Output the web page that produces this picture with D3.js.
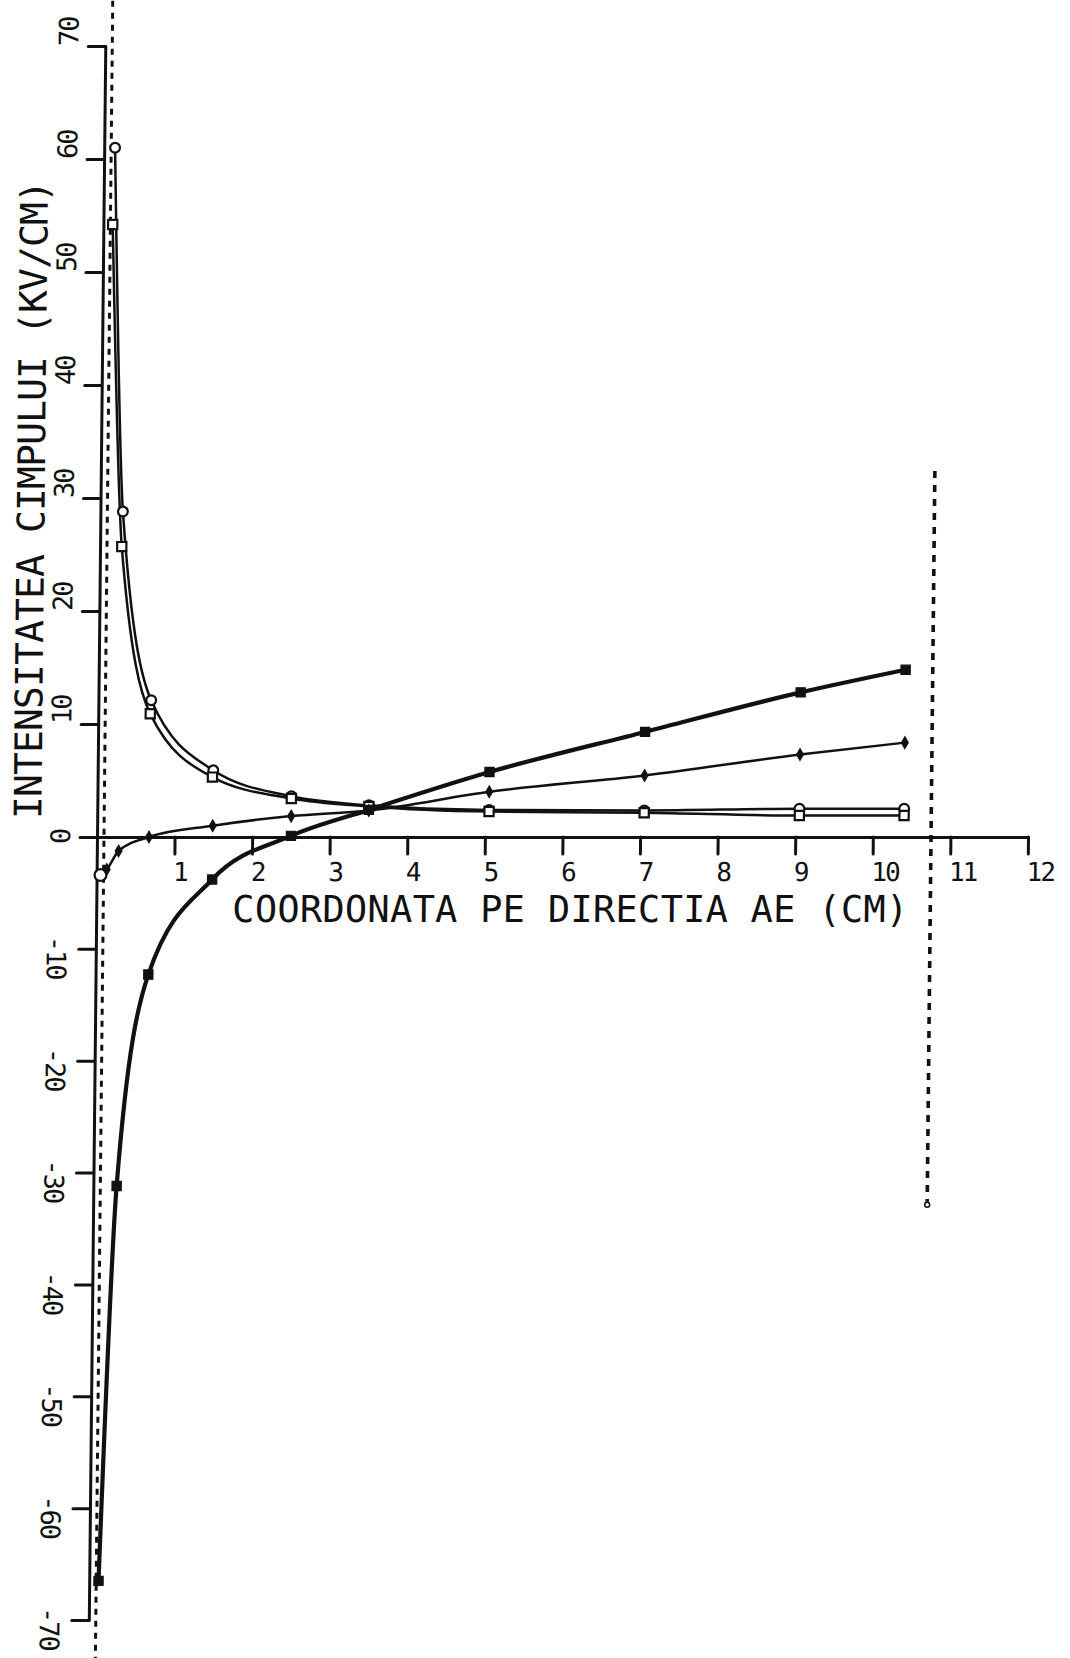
<!DOCTYPE html>
<html>
<head>
<meta charset="utf-8">
<script src="https://cdn.jsdelivr.net/npm/d3@7/dist/d3.min.js"></script>
<style>
body { margin: 0; background: #fff; }
svg { display: block; background: #fff; }
text { font-family: 'DejaVu Sans Mono', monospace; fill: #111; }
</style>
</head>
<body>
<svg></svg>
<script>
let width = 1070
let height = 1658

// axis ticks
let xTicks = [1, 2, 3, 4, 5, 6, 7, 8, 9, 10, 11, 12]
let yTicks = [-70, -60, -50, -40, -30, -20, -10, 0, 10, 20, 30, 40, 50, 60, 70]

let xTitle = 'COORDONATA PE DIRECTIA AE (CM)'
let yTitle = 'INTENSITATEA CIMPULUI (KV/CM)'

// curve with open circles
let seriesAX = [0.14, 0.29, 0.68, 1.49, 2.5, 3.5, 5.05, 7.05, 9.05, 10.4]
let seriesAY = [61, 28.8, 12.1, 5.9, 3.6, 2.8, 2.4, 2.35, 2.5, 2.5]
// curve with open squares
let seriesBX = [0.12, 0.28, 0.67, 1.48, 2.5, 3.5, 5.05, 7.05, 9.05, 10.4]
let seriesBY = [54.2, 25.7, 10.9, 5.3, 3.4, 2.7, 2.25, 2.15, 1.9, 1.9]
// thin curve with small diamonds
let seriesCX = [0.05, 0.13, 0.28, 0.67, 1.49, 2.5, 3.5, 5.05, 7.05, 9.05, 10.4]
let seriesCY = [-3.4, -2.9, -1.25, 0, 1.0, 1.85, 2.35, 4.0, 5.45, 7.3, 8.35]
// thick curve with filled squares
let seriesDX = [0.12, 0.3, 0.68, 1.49, 2.5, 3.5, 5.05, 7.05, 9.05, 10.4]
let seriesDY = [-66.5, -31.2, -12.3, -3.8, 0.1, 2.4, 5.75, 9.3, 12.8, 14.8]

// dotted vertical boundaries
let boundX = [0.09, 10.75]
let boundTop = [74, 32.4]
let boundBottom = [-74, -32.6]

let svg = d3.select('svg')
    .attr('width', width)
    .attr('height', height)

let xScale = d3.scaleLinear()
    .domain([0, 12])
    .range([97, 1028])

let yScale = d3.scaleLinear()
    .domain([-70, 0, 70])
    .range([1620, 837, 46])

let y0 = yScale(0)

// the scanned sheet is slightly sheared
let plot = svg.append('g')
    .attr('transform', 'translate(0,' + y0 + ') skewX(-0.6) translate(0,' + (-y0) + ')')

let zip = (xs, ys) => xs.map((x, i) => [x, ys[i]])

let drawBounds = () => {
    let line = d3.line()
        .x(d => xScale(d[0]))
        .y(d => yScale(d[1]))

    boundX.forEach((bx, i) => {
        plot.append('path')
            .attr('d', line([[bx, boundTop[i]], [bx, boundBottom[i]]]))
            .attr('fill', 'none')
            .attr('stroke', '#111')
            .attr('stroke-width', i === 0 ? 3 : 3.6)
            .attr('stroke-dasharray', i === 0 ? '6 6' : '7 7')
    })

    plot.append('circle')
        .attr('cx', xScale(boundX[1]))
        .attr('cy', yScale(boundBottom[1]) + 3)
        .attr('r', 2.5)
        .attr('fill', '#fff')
        .attr('stroke', '#111')
        .attr('stroke-width', 1.5)
}

let drawAxes = () => {
    let yAxis = d3.axisLeft(yScale)
        .tickValues(yTicks)
        .tickSize(17)
        .tickSizeOuter(0)
        .tickFormat('')

    let xAxis = d3.axisBottom(xScale)
        .tickValues(xTicks)
        .tickSize(17)
        .tickSizeOuter(0)
        .tickFormat('')

    let gy = plot.append('g')
        .attr('transform', 'translate(' + xScale(0) + ',0)')
        .call(yAxis)

    let gx = plot.append('g')
        .attr('transform', 'translate(0,' + y0 + ')')
        .call(xAxis)

    ;[gx, gy].forEach(g => {
        g.selectAll('path, line')
            .attr('stroke', '#111')
            .attr('stroke-width', 3)
            .attr('stroke-linecap', 'round')
    })
}

let drawTickLabels = () => {
    plot.selectAll('text.xtick')
        .data(xTicks)
        .enter()
        .append('text')
        .attr('class', 'xtick')
        .attr('x', d => xScale(d) - 1)
        .attr('y', 881)
        .style('font-size', '26px')
        .style('letter-spacing', '-2px')
        .text(d => d)

    plot.selectAll('text.ytick')
        .data(yTicks)
        .enter()
        .append('text')
        .attr('class', 'ytick')
        .attr('transform', d => {
            if (d < 0) {
                return 'translate(' + (xScale(0) - 49) + ',' + (yScale(d) - 13) + ') rotate(90)'
            }
            let off = d === 0 ? 7 : 0
            return 'translate(' + (xScale(0) - 27) + ',' + (yScale(d) + off) + ') rotate(-90)'
        })
        .style('font-size', '27px')
        .style('letter-spacing', '-2px')
        .text(d => d === 0 ? '0' : d)
}

let drawTitles = () => {
    plot.append('text')
        .attr('x', 233)
        .attr('y', 922)
        .attr('textLength', 676)
        .attr('lengthAdjust', 'spacing')
        .style('font-size', '37px')
        .text(xTitle)

    plot.append('text')
        .attr('transform', 'translate(41,819) rotate(-90)')
        .attr('textLength', 639)
        .attr('lengthAdjust', 'spacing')
        .style('font-size', '38px')
        .text(yTitle)
}

let drawCurves = () => {
    let line = d3.line()
        .x(d => xScale(d[0]))
        .y(d => yScale(d[1]))
        .curve(d3.curveMonotoneX)

    let curves = [
        { pts: zip(seriesAX, seriesAY), w: 2.5 },
        { pts: zip(seriesBX, seriesBY), w: 2.5 },
        { pts: zip(seriesCX, seriesCY), w: 2.5 },
        { pts: zip(seriesDX, seriesDY), w: 4.2 }
    ]

    curves.forEach(c => {
        plot.append('path')
            .attr('d', line(c.pts))
            .attr('fill', 'none')
            .attr('stroke', '#111')
            .attr('stroke-width', c.w)
            .attr('stroke-linejoin', 'round')
    })
}

let drawMarkers = () => {
    let circle = d3.symbol().type(d3.symbolCircle).size(75)
    let square = d3.symbol().type(d3.symbolSquare).size(85)
    let diamond = d3.symbol().type(d3.symbolDiamond).size(42)
    let bigCircle = d3.symbol().type(d3.symbolCircle).size(110)

    plot.selectAll('path.ma')
        .data(zip(seriesAX, seriesAY))
        .enter()
        .append('path')
        .attr('class', 'ma')
        .attr('d', circle)
        .attr('transform', d => 'translate(' + xScale(d[0]) + ',' + yScale(d[1]) + ')')
        .attr('fill', '#fff')
        .attr('stroke', '#111')
        .attr('stroke-width', 2.2)

    plot.selectAll('path.mb')
        .data(zip(seriesBX, seriesBY))
        .enter()
        .append('path')
        .attr('class', 'mb')
        .attr('d', square)
        .attr('transform', d => 'translate(' + xScale(d[0]) + ',' + yScale(d[1]) + ')')
        .attr('fill', '#fff')
        .attr('stroke', '#111')
        .attr('stroke-width', 2.2)

    plot.selectAll('path.mc')
        .data(zip(seriesCX, seriesCY))
        .enter()
        .append('path')
        .attr('class', 'mc')
        .attr('d', (d, i) => i === 0 ? bigCircle() : diamond())
        .attr('transform', d => 'translate(' + xScale(d[0]) + ',' + yScale(d[1]) + ')')
        .attr('fill', (d, i) => i === 0 ? '#fff' : '#111')
        .attr('stroke', '#111')
        .attr('stroke-width', (d, i) => i === 0 ? 2.2 : 1)

    plot.selectAll('path.md')
        .data(zip(seriesDX, seriesDY))
        .enter()
        .append('path')
        .attr('class', 'md')
        .attr('d', square)
        .attr('transform', d => 'translate(' + xScale(d[0]) + ',' + yScale(d[1]) + ')')
        .attr('fill', '#111')
        .attr('stroke', '#111')
        .attr('stroke-width', 1.2)
}

drawBounds()
drawAxes()
drawTickLabels()
drawTitles()
drawCurves()
drawMarkers()
</script>
</body>
</html>
